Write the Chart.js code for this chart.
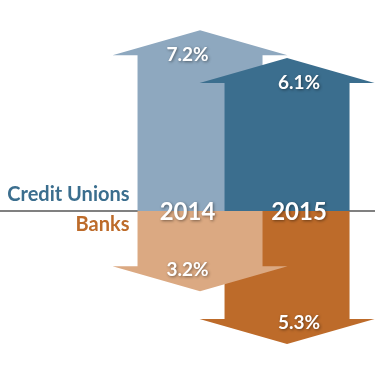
<!DOCTYPE html>
<html><head><meta charset="utf-8">
<script src="https://cdn.jsdelivr.net/npm/chart.js@4/dist/chart.umd.min.js"></script>
<style>html,body{margin:0;padding:0;background:#fff}#wrap{width:375px;height:375px}</style>
</head><body><div id="wrap"><canvas id="c" width="375" height="375"></canvas></div>
<script>
const years = [2014, 2015];
const yearLabels = ['2014', '2015'];
const creditUnions = [7.2, 6.1];
const banks = [-3.2, -5.3];
const valueLabelsCU = ['7.2%', '6.1%'];
const valueLabelsBanks = ['3.2%', '5.3%'];
const seriesNames = ['Credit Unions', 'Banks'];

const cuColors = ['#8EA8BF', '#3B6E8E'];
const bankColors = ['#DBA982', '#BD6B2A'];

const arrowPlugin = {
  id: 'arrows',
  afterDatasetsDraw(chart) {
    const ctx = chart.ctx;
    const yScale = chart.scales.y;
    const base = yScale.getPixelForValue(0);
    const headH = 25;
    const headExtra = 25;
    ctx.save();
    ctx.strokeStyle = '#808080';
    ctx.lineWidth = 2;
    ctx.beginPath();
    ctx.moveTo(0, base);
    ctx.lineTo(chart.width, base);
    ctx.stroke();
    ctx.restore();

    function arrow(el, color) {
      const x = el.x, y = el.y, w = el.width;
      const dir = y < base ? -1 : 1;
      const headBase = y - dir * headH;
      ctx.save();
      ctx.fillStyle = color;
      ctx.beginPath();
      ctx.moveTo(x - w / 2, base);
      ctx.lineTo(x - w / 2, headBase);
      ctx.lineTo(x - w / 2 - headExtra, headBase);
      ctx.lineTo(x, y);
      ctx.lineTo(x + w / 2 + headExtra, headBase);
      ctx.lineTo(x + w / 2, headBase);
      ctx.lineTo(x + w / 2, base);
      ctx.closePath();
      ctx.fill();
      ctx.restore();
    }
    const cuMeta = chart.getDatasetMeta(0);
    const bkMeta = chart.getDatasetMeta(1);
    arrow(bkMeta.data[1], bankColors[1]);
    arrow(bkMeta.data[0], bankColors[0]);
    arrow(cuMeta.data[0], cuColors[0]);
    arrow(cuMeta.data[1], cuColors[1]);

    ctx.save();
    ctx.fillStyle = '#fff';
    ctx.shadowColor = 'rgba(0,0,0,0.45)';
    ctx.shadowBlur = 3;
    ctx.shadowOffsetX = 1;
    ctx.shadowOffsetY = 1;
    ctx.textAlign = 'center';
    ctx.textBaseline = 'middle';
    const shifts = [-12.5, 12];
    ctx.font = 'bold 19px Lato';
    cuMeta.data.forEach((el, i) => {
      ctx.fillText(valueLabelsCU[i], el.x + shifts[i], el.y + 25);
    });
    bkMeta.data.forEach((el, i) => {
      ctx.fillText(valueLabelsBanks[i], el.x + shifts[i], el.y - 21);
    });
    ctx.font = 'bold 24px Lato';
    cuMeta.data.forEach((el, i) => {
      ctx.fillText(yearLabels[i], el.x + shifts[i], base + 1);
    });
    ctx.restore();

    ctx.save();
    ctx.textAlign = 'right';
    ctx.textBaseline = 'alphabetic';
    ctx.font = 'bold 20px Lato';
    const labelX = cuMeta.data[0].x - cuMeta.data[0].width / 2 - 8;
    ctx.fillStyle = cuColors[1];
    ctx.fillText(seriesNames[0], labelX, base - 10);
    ctx.fillStyle = bankColors[1];
    ctx.fillText(seriesNames[1], labelX, base + 20);
    ctx.restore();
  }
};

new Chart(document.getElementById('c'), {
  type: 'bar',
  data: {
    datasets: [
      { label: seriesNames[0], data: years.map((x, i) => ({ x, y: creditUnions[i] })), backgroundColor: 'rgba(0,0,0,0)', grouped: false },
      { label: seriesNames[1], data: years.map((x, i) => ({ x, y: banks[i] })), backgroundColor: 'rgba(0,0,0,0)', grouped: false }
    ]
  },
  options: {
    responsive: false,
    animation: false,
    layout: { padding: 0 },
    barThickness: 125,
    plugins: { legend: { display: false }, tooltip: { enabled: false } },
    scales: {
      x: { type: 'linear', offset: false, min: 2011.701, max: 2016.011, display: false },
      y: { min: -6.534, max: 8.406, display: false }
    }
  },
  plugins: [arrowPlugin]
});
</script></body></html>
